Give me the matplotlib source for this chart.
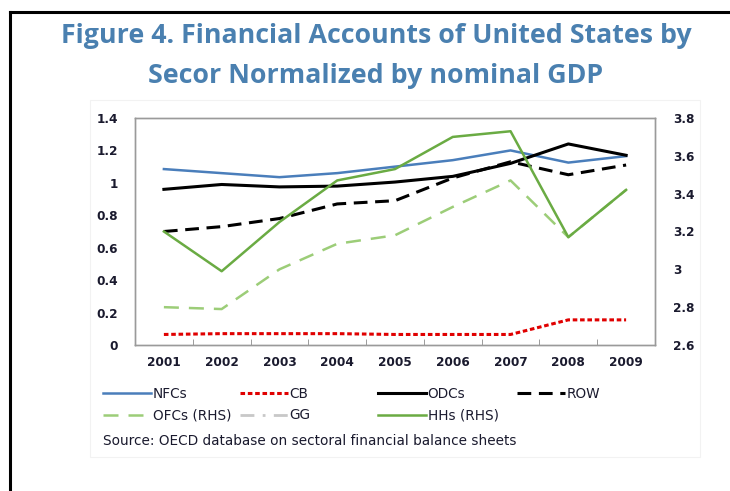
import matplotlib.pyplot as plt
from matplotlib.lines import Line2D
from matplotlib.patches import Rectangle
from matplotlib.ticker import FuncFormatter

years = ["2001", "2002", "2003", "2004", "2005", "2006", "2007", "2008", "2009"]

# left axis series
nfcs = [1.085, 1.06, 1.035, 1.06, 1.10, 1.14, 1.20, 1.125, 1.165]
cb = [0.065, 0.07, 0.07, 0.07, 0.065, 0.065, 0.065, 0.155, 0.155]
odcs = [0.96, 0.99, 0.975, 0.98, 1.005, 1.04, 1.12, 1.24, 1.17]
row = [0.70, 0.73, 0.78, 0.87, 0.89, 1.03, 1.13, 1.05, 1.11]
gg = []

# right axis series (RHS)
ofcs = [2.80, 2.79, 3.00, 3.135, 3.18, 3.33, 3.47, 3.17, 3.42]
hhs = [3.20, 2.99, 3.25, 3.47, 3.53, 3.70, 3.73, 3.17, 3.42]

left_ticks = [0, 0.2, 0.4, 0.6, 0.8, 1, 1.2, 1.4]
right_ticks = [2.6, 2.8, 3.0, 3.2, 3.4, 3.6, 3.8]

TITLE_C = "#4a80b0"
TXT_C = "#1a1a2e"

fig = plt.figure(figsize=(7.30, 4.91), dpi=100)
W, H = 730, 491

# outer border (top and left visible)
fig.add_artist(Line2D([10 / W, 10 / W], [0, 1 - 12 / H], color="black", lw=2.2))
fig.add_artist(Line2D([10 / W, 1], [1 - 12 / H, 1 - 12 / H], color="black", lw=2.2))
# faint chart-area frame
fig.add_artist(Rectangle((90 / W, 1 - 457 / H), 610 / W, 357 / H, fill=False,
                         ec="#f2f2f2", lw=0.8))

fig.text(376 / W, 1 - 36 / H, "Figure 4. Financial Accounts of United States by",
         ha="center", va="center", fontsize=19.3, fontweight="bold",
         family="Open Sans", color=TITLE_C)
fig.text(376 / W, 1 - 76 / H, "Secor Normalized by nominal GDP",
         ha="center", va="center", fontsize=19.3, fontweight="bold",
         family="Open Sans", color=TITLE_C)

ax = fig.add_axes([135 / W, 1 - 345 / H, 520 / W, 227 / H])
ax2 = ax.twinx()

x = list(range(len(years)))
l_nfcs, = ax.plot(x, nfcs, color="#4a7ebb", lw=1.8, label="NFCs")
l_cb, = ax.plot(x, cb, color="#e00000", lw=2.2, dashes=(1.5, 0.9), label="CB")
l_odcs, = ax.plot(x, odcs, color="black", lw=2.2, label="ODCs")
l_row, = ax.plot(x, row, color="black", lw=2.2, dashes=(4.5, 2.5), label="ROW")
l_gg, = ax.plot(gg, gg, color="#c8c8c8", lw=2, dashes=(5, 3, 1, 3), label="GG")
l_ofcs, = ax2.plot(x, ofcs, color="#9ccd78", lw=1.8, dashes=(6, 4), label="OFCs (RHS)")
l_hhs, = ax2.plot(x, hhs, color="#6aab43", lw=1.8, label="HHs (RHS)")

ax.set_xlim(-0.5, len(years) - 0.5)
ax.set_ylim(0, 1.4)
ax2.set_ylim(2.6, 3.8)
ax.set_yticks(left_ticks)
ax2.set_yticks(right_ticks)
fmt = FuncFormatter(lambda v, p: "{:g}".format(round(v, 2)))
ax.yaxis.set_major_formatter(fmt)
ax2.yaxis.set_major_formatter(fmt)
ax.set_xticks(x)
ax.set_xticklabels(years)
ax.set_xticks([i + 0.5 for i in x[:-1]], minor=True)

tick_font = dict(family="DejaVu Sans", weight="bold", size=8.7)
for lab in ax.get_xticklabels() + ax.get_yticklabels() + ax2.get_yticklabels():
    lab.set_fontproperties(tick_font)
    lab.set_color(TXT_C)

ax.tick_params(axis="x", which="major", length=0, pad=8)
ax.tick_params(axis="x", which="minor", direction="in", length=4, color="#8c8c8c")
ax.tick_params(axis="y", length=0, pad=12)
ax2.tick_params(axis="y", length=0, pad=13)

for a in (ax, ax2):
    for s in a.spines.values():
        s.set_color("#9a9a9a")
        s.set_linewidth(1)

# legend in four fixed columns
columns = [[l_nfcs, l_ofcs], [l_cb, l_gg], [l_odcs, l_hhs], [l_row]]
col_x = [103, 240, 378, 517]
for hs, cx in zip(columns, col_x):
    fig.legend(handles=hs, loc="upper left", bbox_to_anchor=(cx / W, 1 - 387 / H),
               frameon=False, handlelength=3.5, handletextpad=0.15,
               borderpad=0, borderaxespad=0, labelspacing=0.55,
               prop=dict(family="DejaVu Sans", size=9.8), labelcolor=TXT_C)

fig.text(103 / W, 1 - 441 / H, "Source: OECD database on sectoral financial balance sheets",
         ha="left", va="center", fontsize=9.8, family="DejaVu Sans", color=TXT_C)

fig.savefig("out.png", dpi=100)
